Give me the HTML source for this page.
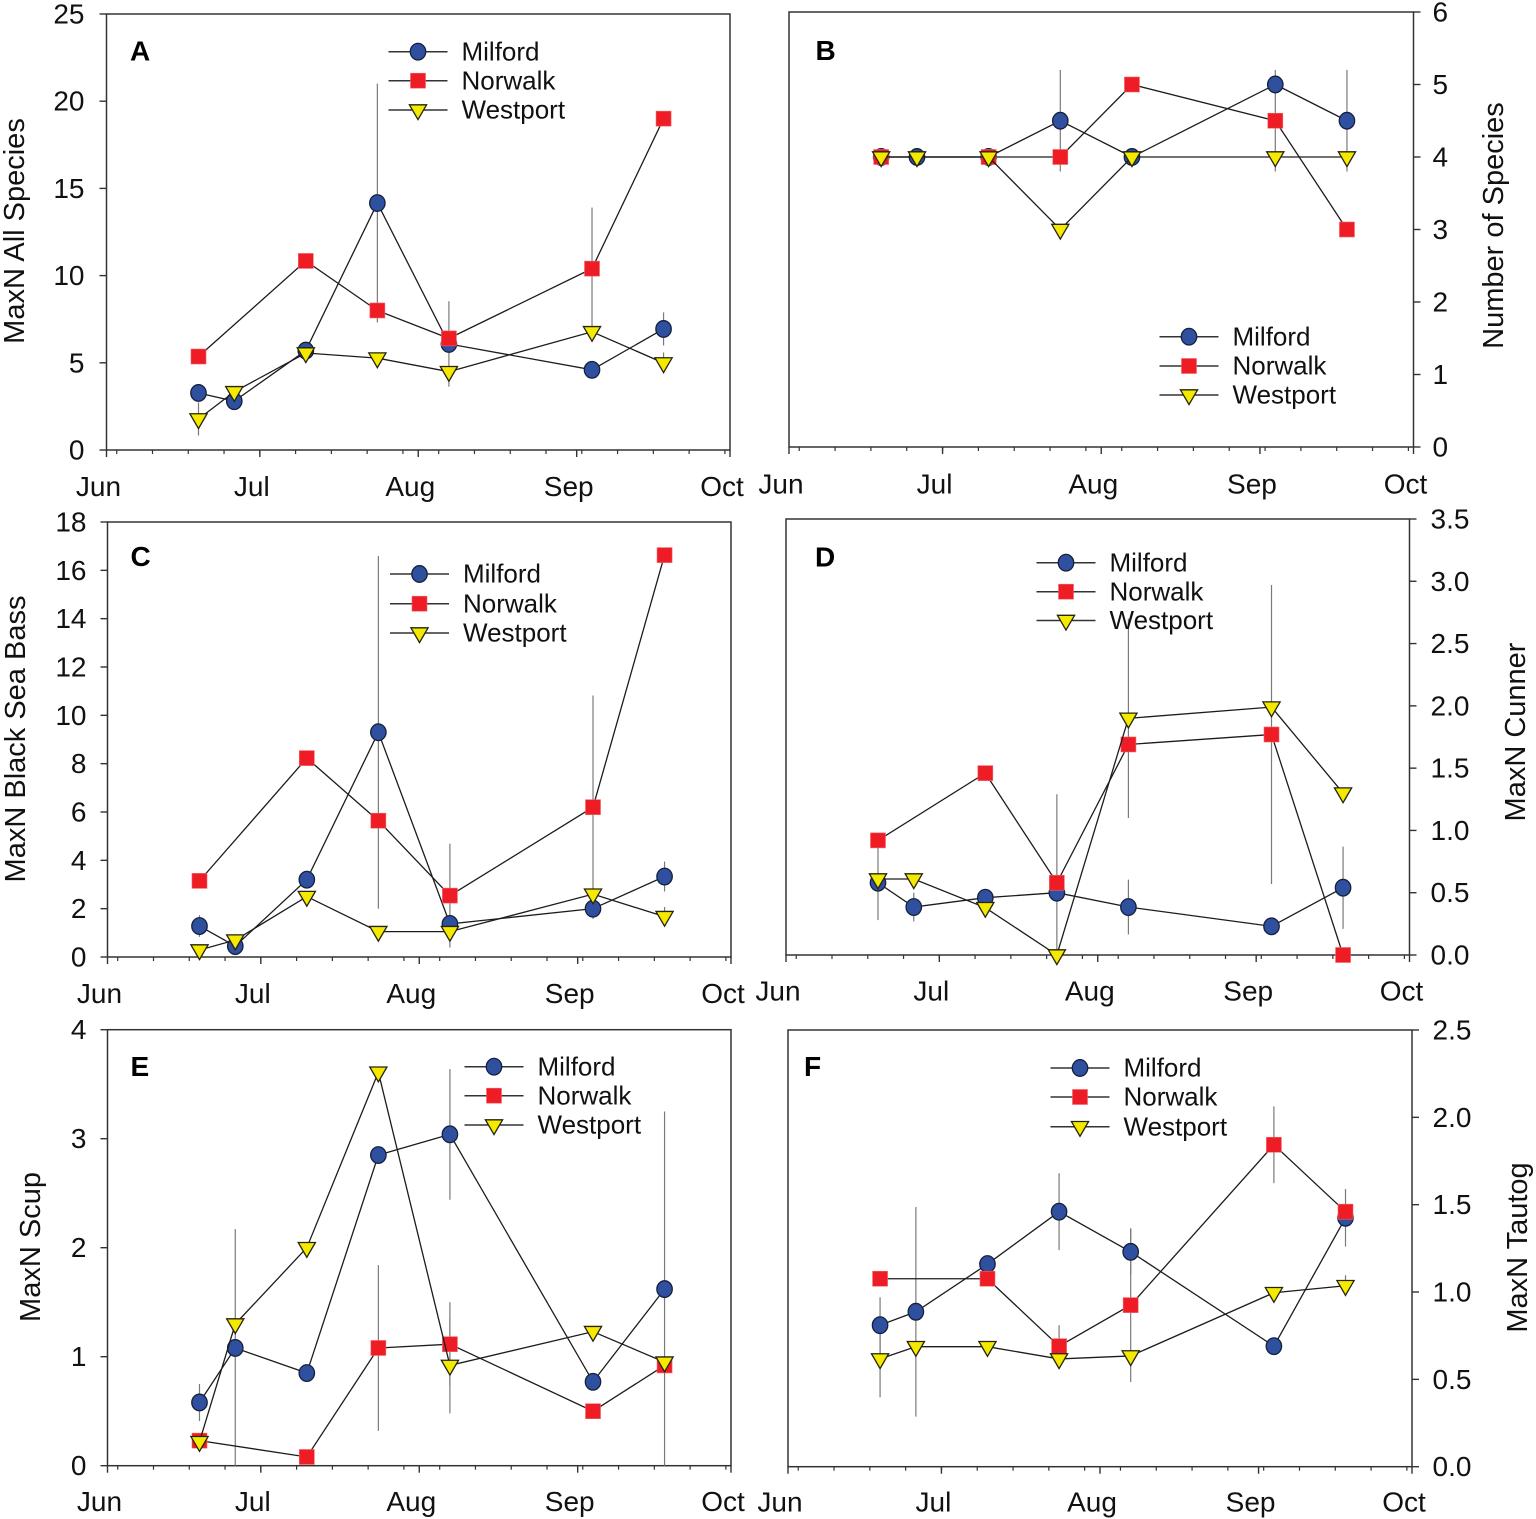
<!DOCTYPE html>
<html lang="en">
<head>
<meta charset="utf-8">
<title>MaxN by site and month</title>
<style>
  html, body { margin: 0; padding: 0; background: #fff; }
  svg { display: block; font-family: "Liberation Sans", Arial, sans-serif; }
</style>
</head>
<body>
<svg id="figure" xmlns="http://www.w3.org/2000/svg" width="1536" height="1519" viewBox="0 0 1536 1519"></svg>
<script>
/* Shared x axis data */
const monthLabels = ['Jun', 'Jul', 'Aug', 'Sep', 'Oct'];
const monthStartDays = [0, 30, 61, 92, 122];
const sampleDays = [18, 25, 39, 53, 67, 95, 109];
const seriesNames = ['Milford', 'Norwalk', 'Westport'];

/* Panel A */
const aTicks = [0, 5, 10, 15, 20, 25];
const aMilford = [3.27, 2.8, 5.7, 14.16, 6.08, 4.6, 6.94];
const aNorwalk = [5.36, null, 10.84, 8, 6.4, 10.4, 19];
const aWestport = [1.78, 3.34, 5.56, 5.27, 4.49, 6.78, 4.99];
const aMilfordErr = [0, 0, 0, 6.85, 2.45, 0, 0.95];
const aNorwalkErr = [0, 0, 0, 0, 0, 3.5, 0];
const aWestportErr = [0.95, 0, 0, 0, 0, 0, 0.6];

/* Panel B */
const bTicks = [0, 1, 2, 3, 4, 5, 6];
const bMilford = [4, 4, 4, 4.5, 4, 5, 4.5];
const bNorwalk = [4, null, 4, 4, 5, 4.5, 3];
const bWestport = [4, 4, 4, 3, 4, 4, 4];
const bMilfordErr = [0, 0, 0, 0.7, 0, 0, 0.7];
const bNorwalkErr = [0, 0, 0, 0, 0, 0.7, 0];
const bWestportErr = [0, 0, 0, 0, 0, 0, 0];

/* Panel C */
const cTicks = [0, 2, 4, 6, 8, 10, 12, 14, 16, 18];
const cMilford = [1.28, 0.45, 3.2, 9.3, 1.37, 2, 3.33];
const cNorwalk = [3.15, null, 8.23, 5.64, 2.54, 6.2, 16.63];
const cWestport = [0.29, 0.7, 2.5, 1.05, 1.05, 2.6, 1.67];
const cMilfordErr = [0.45, 0, 0, 7.3, 0, 0, 0.62];
const cNorwalkErr = [0, 0, 0, 0, 2.15, 4.62, 0];
const cWestportErr = [0, 0, 0, 0, 0, 0, 0.4];

/* Panel D */
const dTicks = ['0.0', '0.5', '1.0', '1.5', '2.0', '2.5', '3.0', '3.5'];
const dMilford = [0.58, 0.385, 0.46, 0.5, 0.385, 0.23, 0.54];
const dNorwalk = [0.92, null, 1.46, 0.58, 1.69, 1.77, 0];
const dWestport = [0.61, 0.61, 0.38, 0, 1.9, 1.99, 1.3];
const dMilfordErr = [0, 0.115, 0, 0, 0.22, 0, 0.33];
const dNorwalkErr = [0, 0, 0, 0.71, 0, 1.2, 0];
const dWestportErr = [0.33, 0, 0, 0, 0.8, 0, 0];

/* Panel E */
const eTicks = [0, 1, 2, 3, 4];
const eMilford = [0.58, 1.08, 0.85, 2.85, 3.04, 0.77, 1.62];
const eNorwalk = [0.23, null, 0.08, 1.08, 1.115, 0.5, 0.92];
const eWestport = [0.22, 1.3, 2, 3.61, 0.92, 1.23, 0.95];
const eMilfordErr = [0.17, 1.09, 0, 0, 0.6, 0, 1.63];
const eNorwalkErr = [0, 0, 0, 0.76, 0.385, 0, 0];
const eWestportErr = [0, 0, 0, 0, 0.44, 0, 0];

/* Panel F */
const fTicks = ['0.0', '0.5', '1.0', '1.5', '2.0', '2.5'];
const fMilford = [0.81, 0.887, 1.16, 1.46, 1.23, 0.69, 1.425];
const fNorwalk = [1.076, null, 1.076, 0.69, 0.925, 1.843, 1.46];
const fWestport = [0.617, 0.687, 0.687, 0.617, 0.634, 0.996, 1.036];
const fMilfordErr = [0.16, 0.6, 0, 0.22, 0.13, 0, 0.165];
const fNorwalkErr = [0, 0, 0, 0.12, 0.44, 0.22, 0];
const fWestportErr = [0.22, 0, 0, 0, 0, 0, 0.06];

const NS = 'http://www.w3.org/2000/svg';
const root = document.getElementById('figure');
const SERIES_STYLE = { line: '#1c1c1c', err: '#7a7a7a', axis: '#333333' };

function make(tag, attrs, parent) {
  const el = document.createElementNS(NS, tag);
  for (const k in attrs) el.setAttribute(k, attrs[k]);
  parent.appendChild(el);
  return el;
}

function drawMarker(kind, x, y, parent) {
  let el;
  if (kind === 'Milford') {
    el = make('ellipse', { cx: x, cy: y, rx: 7.7, ry: 8.3, fill: '#2f4f9f', stroke: '#16203c', 'stroke-width': 1.3 }, parent);
  } else if (kind === 'Norwalk') {
    el = make('rect', { x: x - 7.5, y: y - 7.5, width: 15, height: 15, fill: '#ee1c25', stroke: '#f4636a', 'stroke-width': 0.6 }, parent);
  } else {
    const pts = (x - 8.6) + ',' + (y - 5.2) + ' ' + (x + 8.6) + ',' + (y - 5.2) + ' ' + x + ',' + (y + 9.6);
    el = make('polygon', { points: pts, fill: '#f6e900', stroke: '#23230f', 'stroke-width': 1.3, 'stroke-linejoin': 'miter' }, parent);
  }
  return el;
}

function drawPanel(p) {
  const g = make('g', {}, root);
  
  

  const yMax = parseFloat(p.ticks[p.ticks.length - 1]);
  const xScale = d => p.x0 + (d / monthStartDays[monthStartDays.length - 1]) * (p.x1 - p.x0);
  const yScale = v => p.yb - (v / yMax) * (p.yb - p.yt);

  /* Frame */
  const frame = make('rect', { x: p.x0, y: p.yt, width: p.x1 - p.x0, height: p.yb - p.yt, fill: 'none', stroke: SERIES_STYLE.axis, 'stroke-width': 1.5 }, g);
  
  

  /* X ticks: weekly minor, monthly major */
  for (let d = 2; d < monthStartDays[monthStartDays.length - 1]; d += 7) {
    const t = make('line', { x1: xScale(d), x2: xScale(d), y1: p.yb, y2: p.yb + 4, stroke: SERIES_STYLE.axis, 'stroke-width': 1.2 }, g);
    
    
  }
  monthStartDays.forEach((d, i) => {
    const t = make('line', { x1: xScale(d), x2: xScale(d), y1: p.yb, y2: p.yb + 7, stroke: SERIES_STYLE.axis, 'stroke-width': 1.4 }, g);
    
    
    const lab = make('text', { x: xScale(d) - 8, y: p.yb + p.monthDy, 'text-anchor': 'middle', 'font-size': 28, fill: '#111' }, g);
    lab.textContent = monthLabels[i];
    
    
  });

  /* Y ticks */
  p.ticks.forEach(tv => {
    const y = yScale(parseFloat(tv));
    const right = p.side === 'right';
    const ax = right ? p.x1 : p.x0;
    const t = make('line', { x1: ax, x2: right ? ax + 7 : ax - 7, y1: y, y2: y, stroke: SERIES_STYLE.axis, 'stroke-width': 1.4 }, g);
    
    
    const lab = make('text', { x: p.tickX, y: y + 9.5, 'text-anchor': right ? 'start' : 'end', 'font-size': 28, fill: '#111' }, g);
    lab.textContent = tv;
    
    
  });

  /* Axis title */
  const title = make('text', { transform: 'translate(' + p.titleX + ',' + p.titleY + ') rotate(-90)', 'text-anchor': 'middle', 'font-size': 29, fill: '#111' }, g);
  title.textContent = p.title;
  
  

  /* Panel letter */
  const letter = make('text', { x: p.letterX, y: p.letterY, 'font-size': 28, 'font-weight': 'bold', fill: '#000' }, g);
  letter.textContent = p.letter;
  
  

  /* Error bars sit beneath every series */
  p.series.forEach(s => {
    s.values.forEach((v, i) => {
      const e = s.err[i];
      if (v === null || !e) return;
      const bar = make('line', {
        x1: xScale(sampleDays[i]), x2: xScale(sampleDays[i]),
        y1: yScale(Math.min(yMax, v + e)), y2: yScale(Math.max(0, v - e)),
        stroke: SERIES_STYLE.err, 'stroke-width': 1.2
      }, g);
      
      
    });
  });

  /* Series lines and markers */
  p.series.forEach(s => {
    const sg = make('g', {}, g);
    
    
    const pts = [];
    s.values.forEach((v, i) => {
      if (v !== null) pts.push(xScale(sampleDays[i]) + ',' + yScale(v));
    });
    const pl = make('polyline', { points: pts.join(' '), fill: 'none', stroke: SERIES_STYLE.line, 'stroke-width': 1.3 }, sg);
    
    
    s.values.forEach((v, i) => {
      if (v === null) return;
      const m = drawMarker(s.name, xScale(sampleDays[i]), yScale(v), sg);
      
      
    });
  });

  /* Legend */
  const lg = make('g', {}, g);
  
  
  seriesNames.forEach((name, i) => {
    const y = p.legendY[i];
    const entry = make('g', {}, lg);
    
    
    const ln = make('line', { x1: p.legendX - 29.5, x2: p.legendX + 29.5, y1: y, y2: y, stroke: '#333', 'stroke-width': 1.5 }, entry);
    
    
    const mk = drawMarker(name, p.legendX, y, entry);
    
    
    const tx = make('text', { x: p.legendX + 43.5, y: y + 8.7, 'font-size': 26, fill: '#111' }, entry);
    tx.textContent = name;
    
    
  });
}

function seriesOf(m, n, w, me, ne, we) {
  return [
    { name: 'Milford', values: m, err: me },
    { name: 'Norwalk', values: n, err: ne },
    { name: 'Westport', values: w, err: we }
  ];
}

drawPanel({ key: 'a', letter: 'A', title: 'MaxN All Species', side: 'left', ticks: aTicks,
  x0: 106.5, x1: 730, yt: 14, yb: 450, monthDy: 46, tickX: 84.5, titleX: 24, titleY: 231,
  letterX: 130, letterY: 60.5, legendX: 418, legendY: [51.7, 80.7, 110],
  series: seriesOf(aMilford, aNorwalk, aWestport, aMilfordErr, aNorwalkErr, aWestportErr) });

drawPanel({ key: 'b', letter: 'B', title: 'Number of Species', side: 'right', ticks: bTicks,
  x0: 789, x1: 1413.5, yt: 12, yb: 447, monthDy: 46.5, tickX: 1432.5, titleX: 1503, titleY: 225.5,
  letterX: 815.5, letterY: 60, legendX: 1189, legendY: [336.7, 366, 395],
  series: seriesOf(bMilford, bNorwalk, bWestport, bMilfordErr, bNorwalkErr, bWestportErr) });

drawPanel({ key: 'c', letter: 'C', title: 'MaxN Black Sea Bass', side: 'left', ticks: cTicks,
  x0: 107.5, x1: 731, yt: 522, yb: 957, monthDy: 46, tickX: 86.5, titleX: 25, titleY: 739,
  letterX: 130.5, letterY: 566, legendX: 419.5, legendY: [574, 603.7, 633],
  series: seriesOf(cMilford, cNorwalk, cWestport, cMilfordErr, cNorwalkErr, cWestportErr) });

drawPanel({ key: 'd', letter: 'D', title: 'MaxN Cunner', side: 'right', ticks: dTicks,
  x0: 786, x1: 1409.5, yt: 519, yb: 955, monthDy: 45.5, tickX: 1430.5, titleX: 1525, titleY: 732,
  letterX: 815, letterY: 566.5, legendX: 1066, legendY: [562.7, 591.7, 620.5],
  series: seriesOf(dMilford, dNorwalk, dWestport, dMilfordErr, dNorwalkErr, dWestportErr) });

drawPanel({ key: 'e', letter: 'E', title: 'MaxN Scup', side: 'left', ticks: eTicks,
  x0: 107.5, x1: 731, yt: 1029.7, yb: 1465.7, monthDy: 45.5, tickX: 86.5, titleX: 40, titleY: 1247,
  letterX: 130.5, letterY: 1076, legendX: 494, legendY: [1066.7, 1095.7, 1125],
  series: seriesOf(eMilford, eNorwalk, eWestport, eMilfordErr, eNorwalkErr, eWestportErr) });

drawPanel({ key: 'f', letter: 'F', title: 'MaxN Tautog', side: 'right', ticks: fTicks,
  x0: 788, x1: 1412, yt: 1030, yb: 1466.7, monthDy: 45, tickX: 1432.5, titleX: 1527, titleY: 1247.5,
  letterX: 804, letterY: 1076, legendX: 1080, legendY: [1068, 1097, 1126.7],
  series: seriesOf(fMilford, fNorwalk, fWestport, fMilfordErr, fNorwalkErr, fWestportErr) });
</script>
</body>
</html>
